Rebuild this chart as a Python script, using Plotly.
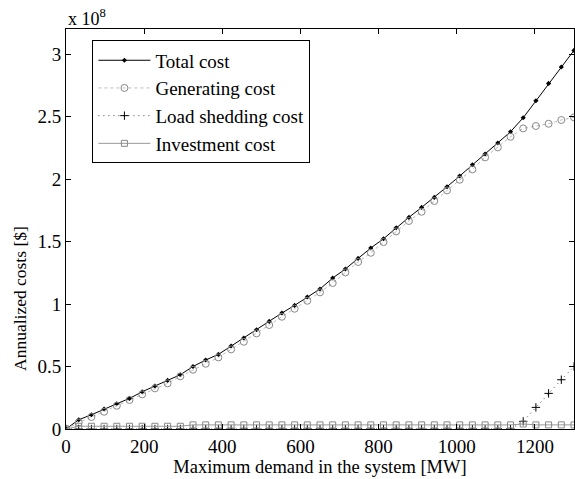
import plotly.graph_objects as go

demand = [i * 32.5 for i in range(41)]

total_cost = [0, 0.074, 0.114, 0.16, 0.202, 0.245, 0.298, 0.344, 0.389, 0.434,
              0.50, 0.552, 0.597, 0.664, 0.728, 0.794, 0.861, 0.928, 0.989, 1.056,
              1.12, 1.208, 1.28, 1.365, 1.448, 1.522, 1.61, 1.693, 1.773, 1.853,
              1.938, 2.024, 2.114, 2.2, 2.288, 2.378, 2.49, 2.626, 2.765, 2.896, 3.029]

generating_cost = [0, 0.052, 0.096, 0.138, 0.186, 0.232, 0.277, 0.325, 0.365, 0.421,
                   0.474, 0.522, 0.573, 0.637, 0.698, 0.765, 0.832, 0.898, 0.962, 1.026,
                   1.093, 1.168, 1.253, 1.336, 1.41, 1.496, 1.581, 1.664, 1.738, 1.824,
                   1.909, 1.994, 2.077, 2.173, 2.253, 2.338, 2.405, 2.424, 2.442, 2.472, 2.493]

load_shedding_cost = [0] * 36 + [0.061, 0.173, 0.285, 0.394, 0.50]

investment_cost = [0] + [0.022] * 9 + [0.033] * 26 + [0.04] + [0.033] * 4

names = ["Total cost", "Generating cost", "Load shedding cost", "Investment cost"]

FONT = "Liberation Serif"

fig = go.Figure()
fig.add_trace(go.Scatter(x=demand, y=total_cost, name=names[0], mode="lines+markers",
                         line=dict(color="black", width=1),
                         marker=dict(symbol="diamond", size=4, color="black"),
                         legendgroup="a"))
fig.add_trace(go.Scatter(x=demand, y=generating_cost, name=names[1], mode="lines+markers",
                         line=dict(color="#bbbbbb", width=1, dash="dot"),
                         marker=dict(symbol="circle-open", size=7, color="#888888",
                                     line=dict(width=1)),
                         legendgroup="b"))
fig.add_trace(go.Scatter(x=demand, y=load_shedding_cost, name=names[2], mode="lines+markers",
                         line=dict(color="#444444", width=1, dash="1px,4px"),
                         marker=dict(symbol="cross-thin-open", size=6, color="black",
                                     line=dict(width=1, color="black")),
                         legendgroup="c"))
fig.add_trace(go.Scatter(x=demand, y=investment_cost, name=names[3], mode="lines+markers",
                         line=dict(color="#999999", width=1),
                         marker=dict(symbol="square-open", size=6, color="#888888",
                                     line=dict(width=1)),
                         legendgroup="d"))

axis_common = dict(showline=True, linecolor="black", linewidth=1, mirror="ticks",
                   ticks="inside", ticklen=5, tickcolor="black", showgrid=False,
                   zeroline=False, tickfont=dict(family=FONT, size=19, color="black"))

fig.update_layout(
    width=575, height=479,
    margin=dict(l=66, r=1, t=29, b=50),
    plot_bgcolor="white", paper_bgcolor="white",
    font=dict(family=FONT, size=18, color="black"),
    xaxis=dict(range=[0, 1300], tickvals=[0, 200, 400, 600, 800, 1000, 1200],
               title=dict(text="Maximum demand in the system [MW]", standoff=0,
                          font=dict(family=FONT, size=18.5)),
               **axis_common),
    yaxis=dict(range=[0, 3.2], tickvals=[0, 0.5, 1, 1.5, 2, 2.5, 3],
               ticktext=["0", "0.5", "1", "1.5", "2", "2.5", "3"],
               **axis_common),
    legend=dict(x=0.052, y=0.9715, xanchor="left", yanchor="top",
                bordercolor="black", borderwidth=1, bgcolor="white",
                font=dict(family=FONT, size=19), tracegroupgap=0, itemwidth=52),
    showlegend=True,
)

fig.add_annotation(text="x 10<sup>8</sup>", xref="paper", yref="paper", x=0.0, y=1.0,
                   xanchor="left", yanchor="bottom", showarrow=False,
                   font=dict(family=FONT, size=18), yshift=-2)

fig.add_annotation(text="Annualized costs [$]", xref="paper", yref="paper",
                   x=0, y=0.325, xanchor="center", yanchor="middle", xshift=-46,
                   textangle=-90, showarrow=False, font=dict(family=FONT, size=17.5))

fig.write_html("out.html")
